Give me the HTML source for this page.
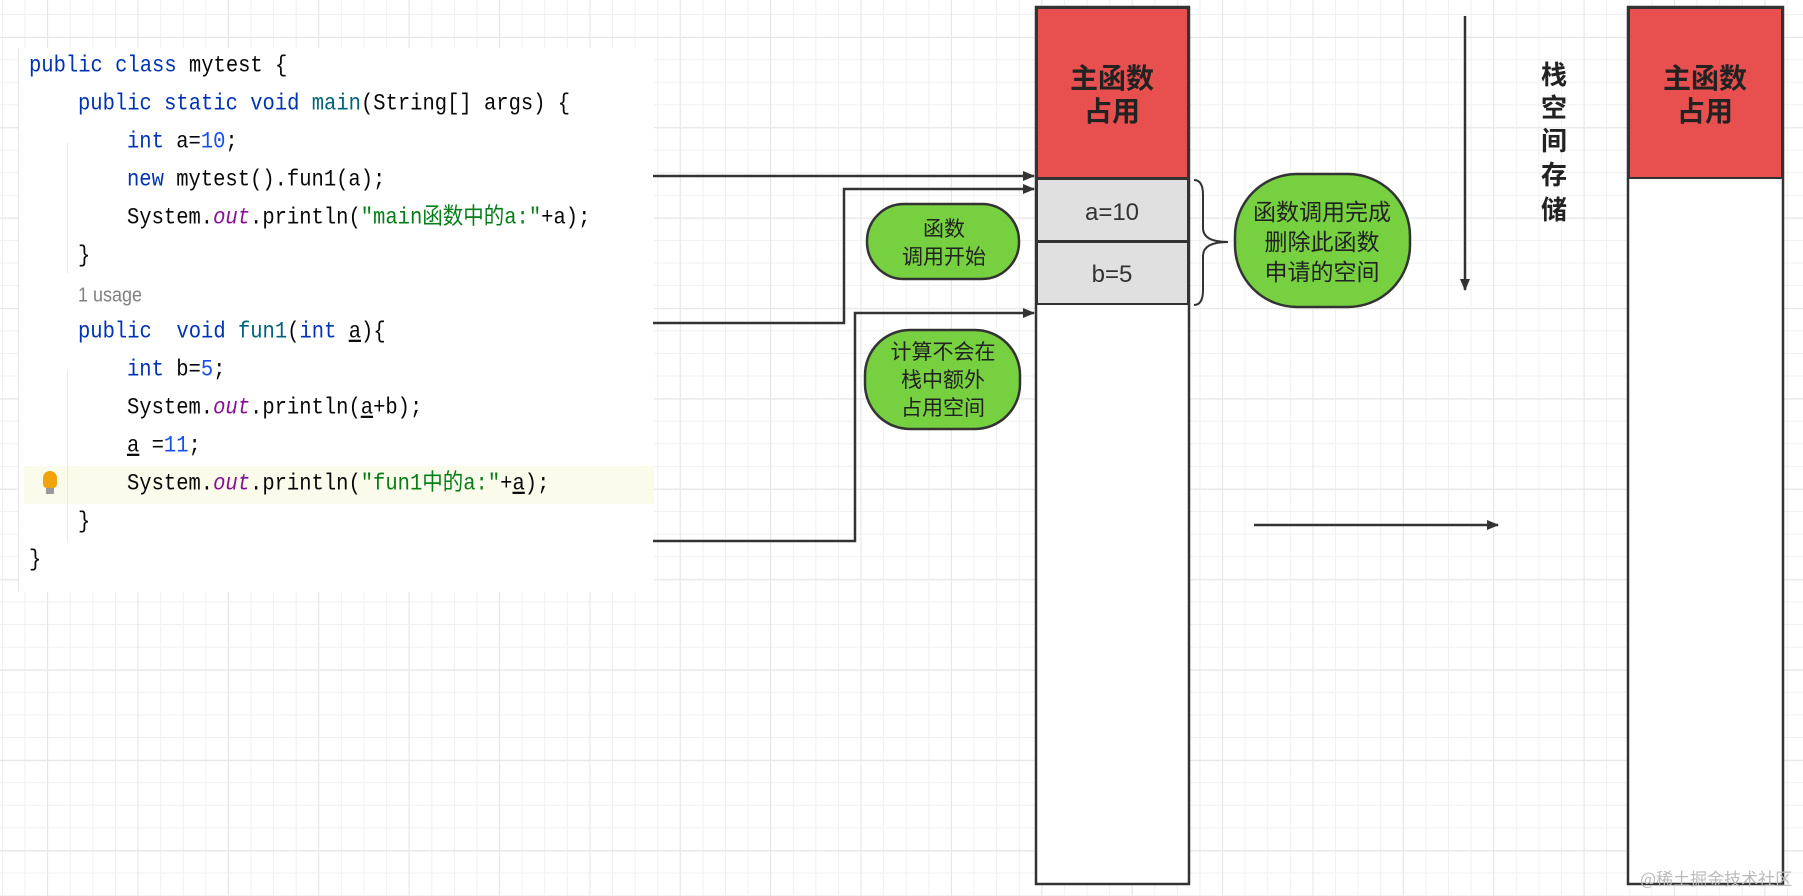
<!DOCTYPE html>
<html><head><meta charset="utf-8">
<style>
html,body{margin:0;padding:0;}
body{width:1803px;height:896px;overflow:hidden;position:relative;background-color:#fff;
background-image:
linear-gradient(to right, #e6e6e6 1px, transparent 1px),
linear-gradient(to bottom, #e6e6e6 1px, transparent 1px),
linear-gradient(to right, #f0f0f0 1px, transparent 1px),
linear-gradient(to bottom, #f0f0f0 1px, transparent 1px);
background-size:90.4px 90.4px,90.4px 90.4px,22.6px 22.6px,22.6px 22.6px;
background-position:47px 37px,47px 37px,2px 14px,2px 14px;
font-family:"Liberation Sans","Noto Sans CJK SC",sans-serif;}
#code{position:absolute;left:18px;top:48px;width:635px;height:544px;background:#fff;border-left:1px solid #e4e4e4;}
.ln{position:absolute;left:0;height:38px;line-height:38px;font-family:"Liberation Mono","Noto Sans CJK SC",monospace;font-size:20.5px;color:#080808;white-space:pre;transform:scaleY(1.12);transform-origin:left center;}
.k{color:#0033b3}.m{color:#00627a}.n{color:#1750eb}.o{color:#871094;font-style:italic}.s{color:#067d17}
.u{text-decoration:underline}
.hl{position:absolute;left:5px;top:418px;width:630px;height:38px;background:#fbfbec;}
.gut{position:absolute;left:48px;width:1px;background:#e8e8e8;}
</style></head><body>
<div id="code">
<div class="hl"></div>
<div class="gut" style="top:95px;height:130px"></div>
<div class="gut" style="top:323px;height:170px"></div>
<div class="ln" style="top:0;left:10px"><span class="k">public class</span> mytest {</div>
<div class="ln" style="top:38px;left:59px"><span class="k">public static void</span> <span class="m">main</span>(String[] args) {</div>
<div class="ln" style="top:76px;left:108px"><span class="k">int</span> a=<span class="n">10</span>;</div>
<div class="ln" style="top:114px;left:108px"><span class="k">new</span> mytest().fun1(a);</div>
<div class="ln" style="top:152px;left:108px">System.<span class="o">out</span>.println(<span class="s">"main函数中的a:"</span>+a);</div>
<div class="ln" style="top:190px;left:59px">}</div>
<div class="ln" style="top:228px;left:59px;font-family:'Liberation Sans',sans-serif;font-size:18px;color:#808080">1 usage</div>
<div class="ln" style="top:266px;left:59px"><span class="k">public</span>  <span class="k">void</span> <span class="m">fun1</span>(<span class="k">int</span> <span class="u">a</span>){</div>
<div class="ln" style="top:304px;left:108px"><span class="k">int</span> b=<span class="n">5</span>;</div>
<div class="ln" style="top:342px;left:108px">System.<span class="o">out</span>.println(<span class="u">a</span>+b);</div>
<div class="ln" style="top:380px;left:108px"><span class="u">a</span> =<span class="n">11</span>;</div>
<div class="ln" style="top:418px;left:108px">System.<span class="o">out</span>.println(<span class="s">"fun1中的a:"</span>+<span class="u">a</span>);</div>
<div class="ln" style="top:456px;left:59px">}</div>
<div class="ln" style="top:494px;left:10px">}</div>
<div style="position:absolute;left:24px;top:423px;width:14px;height:17px;background:#f0a30a;border-radius:7px 7px 4px 4px"></div>
<div style="position:absolute;left:27px;top:440px;width:8px;height:6px;background:#999"></div>
</div>
<svg width="1803" height="896" style="position:absolute;left:0;top:0" xmlns="http://www.w3.org/2000/svg">
<defs><marker id="ar" markerWidth="12" markerHeight="10" refX="11" refY="5" orient="auto" markerUnits="userSpaceOnUse"><path d="M0,0 L12,5 L0,10 z" fill="#333"/></marker></defs>
<g stroke="#333" stroke-width="2.5" fill="none">
<path d="M653,176 H1034" marker-end="url(#ar)"/>
<path d="M653,323 H844 V189 H1034" marker-end="url(#ar)"/>
<path d="M653,541 H855 V313 H1034" marker-end="url(#ar)"/>
<path d="M1465,16 V290" marker-end="url(#ar)"/>
<path d="M1254,525 H1498" marker-end="url(#ar)"/>
</g>
<rect x="1036" y="7" width="153" height="877" fill="#fff" stroke="#333" stroke-width="2.5"/>
<rect x="1037" y="8" width="151" height="170" fill="#e85050" stroke="#333" stroke-width="2"/>
<rect x="1037" y="179" width="151" height="62" fill="#e0e0e0" stroke="#333" stroke-width="2"/>
<rect x="1037" y="242" width="151" height="62" fill="#e0e0e0" stroke="#333" stroke-width="2"/>
<rect x="1628" y="7" width="155" height="877" fill="#fff" stroke="#333" stroke-width="2.5"/>
<rect x="1629" y="8" width="153" height="170" fill="#e85050" stroke="#333" stroke-width="2"/>
<g font-weight="bold" font-size="28" fill="#222" text-anchor="middle" font-family="Noto Sans CJK SC,sans-serif">
<text x="1112" y="88">主函数</text><text x="1112" y="121">占用</text>
<text x="1705" y="88">主函数</text><text x="1705" y="121">占用</text>
</g>
<g font-size="24" fill="#333" text-anchor="middle" font-family="Liberation Sans,sans-serif">
<text x="1112" y="220">a=10</text><text x="1112" y="282">b=5</text></g>
<path d="M1194,180 Q1203,180 1203,195 V228 Q1203,242 1228,242 Q1203,242 1203,256 V290 Q1203,305 1194,305" fill="none" stroke="#333" stroke-width="2"/>
<g fill="#77d040" stroke="#333" stroke-width="2.5">
<rect x="867" y="204" width="152" height="75" rx="37"/>
<rect x="865" y="330" width="155" height="99" rx="45"/>
<rect x="1235" y="174" width="175" height="133" rx="62"/>
</g>
<g font-size="21" fill="#222" text-anchor="middle" font-family="Noto Sans CJK SC,sans-serif">
<text x="944" y="236">函数</text><text x="944" y="264">调用开始</text>
<text x="943" y="359">计算不会在</text><text x="943" y="387">栈中额外</text><text x="943" y="415">占用空间</text>
<text x="1322" y="220" font-size="23">函数调用完成</text><text x="1322" y="250" font-size="23">删除此函数</text><text x="1322" y="280" font-size="23">申请的空间</text>
</g>
<g font-weight="bold" font-size="26" fill="#222" text-anchor="middle" font-family="Noto Sans CJK SC,sans-serif">
<text x="1554" y="84">栈</text><text x="1554" y="117">空</text><text x="1554" y="150">间</text><text x="1554" y="184">存</text><text x="1554" y="219">储</text>
</g>
<text x="1640" y="885" font-size="17" fill="#bbb" font-family="Noto Sans CJK SC,sans-serif">@稀土掘金技术社区</text>
</svg>
</body></html>
